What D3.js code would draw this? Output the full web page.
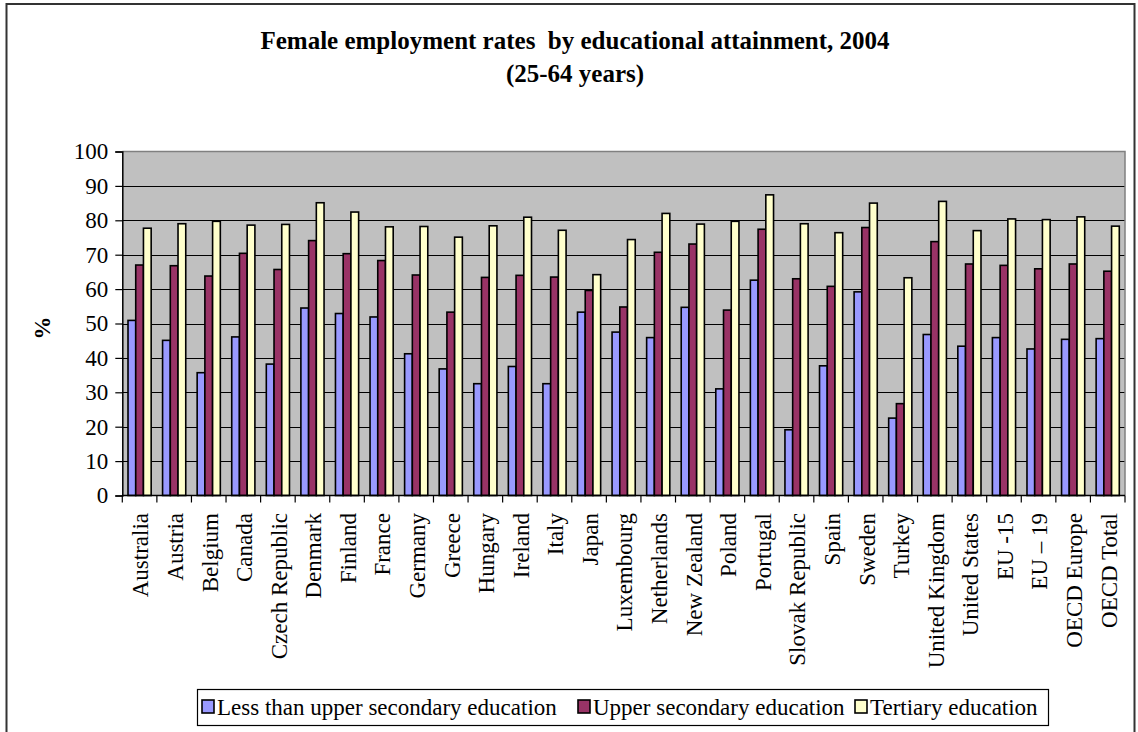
<!DOCTYPE html>
<html><head><meta charset="utf-8">
<script src="https://cdn.jsdelivr.net/npm/d3@7/dist/d3.min.js"></script>
<style>
body{margin:0;background:#fff}
svg{display:block}
text{font-family:"Liberation Serif","Times New Roman",serif;fill:#000}
</style>
</head><body>
<svg id="chart" width="1138" height="732"></svg>
<script>
const categories = ["Australia","Austria","Belgium","Canada","Czech Republic","Denmark","Finland","France","Germany","Greece","Hungary","Ireland","Italy","Japan","Luxembourg","Netherlands","New Zealand","Poland","Portugal","Slovak Republic","Spain","Sweden","Turkey","United Kingdom","United States","EU -15","EU \u2013 19","OECD Europe","OECD Total"];
const seriesNames = ["Less than upper secondary education","Upper secondary education","Tertiary education"];
const lessThanUpperSecondary = [50.9,45.1,35.7,46.1,38.2,54.5,52.9,51.9,41.2,36.8,32.5,37.5,32.5,53.3,47.5,45.9,54.7,31.0,62.6,19.1,37.7,59.2,22.5,46.8,43.4,45.9,42.6,45.4,45.6];
const upperSecondary = [67.0,66.8,63.8,70.4,65.7,74.1,70.3,68.3,64.1,53.3,63.4,64.0,63.5,59.6,54.8,70.7,73.1,53.9,77.4,63.0,60.8,77.9,26.7,73.8,67.3,66.9,65.9,67.3,65.2];
const tertiary = [77.7,79.0,79.7,78.6,78.8,85.1,82.4,78.1,78.2,75.1,78.4,80.9,77.1,64.2,74.4,82.0,78.9,79.7,87.4,79.0,76.4,85.0,63.3,85.5,77.0,80.4,80.2,81.0,78.3];
const yTicks = [0,10,20,30,40,50,60,70,80,90,100];
const seriesColors = ["#9999FF","#993366","#FFFFCC"];
const titleLines = ["Female employment rates  by educational attainment, 2004","(25-64 years)"];
const yAxisLabel = "%";

const seriesValues = [lessThanUpperSecondary, upperSecondary, tertiary];
const svg = d3.select("#chart");

// outer chart border
svg.append("rect").attr("x",6.5).attr("y",4).attr("width",1128).attr("height",800)
  .attr("fill","none").attr("stroke","#333").attr("stroke-width",2);

const plot = {left:122.3, right:1125, top:151.5, bottom:495.5};

const x = d3.scaleBand().domain(categories).range([plot.left, plot.right])
  .paddingInner(0.33).paddingOuter(0.165);
const xs = d3.scaleBand().domain(d3.range(seriesNames.length)).range([0, x.bandwidth()]);
const y = d3.scaleLinear().domain([0,100]).range([plot.bottom, plot.top]);

// plot background
svg.append("rect").attr("x",plot.left).attr("y",plot.top)
  .attr("width",plot.right-plot.left).attr("height",plot.bottom-plot.top)
  .attr("fill","#C0C0C0");

// gridlines
svg.append("g").selectAll("line").data(yTicks.filter(d=>d>0 && d<100)).join("line")
  .attr("x1",plot.left).attr("x2",plot.right)
  .attr("y1",d=>Math.round(y(d))+0.5).attr("y2",d=>Math.round(y(d))+0.5)
  .attr("stroke","#000").attr("stroke-width",1);

// plot border top/right (gray)
svg.append("path")
  .attr("d",`M${plot.left},${plot.top}H${plot.right}V${plot.bottom}`)
  .attr("fill","none").attr("stroke","#808080").attr("stroke-width",1.5);

// bars
const groups = svg.append("g").selectAll("g").data(categories).join("g")
  .attr("transform",d=>`translate(${x(d)},0)`);
groups.selectAll("rect").data((c,i)=>seriesValues.map((s,k)=>({k, v:s[i]}))).join("rect")
  .attr("x",d=>xs(d.k)).attr("width",xs.bandwidth())
  .attr("y",d=>y(d.v)).attr("height",d=>y(0)-y(d.v))
  .attr("fill",d=>seriesColors[d.k]).attr("stroke","#000").attr("stroke-width",1.6);

// y axis
const yAxis = d3.axisLeft(y).tickValues(yTicks).tickSize(7).tickPadding(7).tickFormat(d3.format("d"));
const gy = svg.append("g").attr("transform",`translate(${plot.left},0)`).call(yAxis);
gy.attr("font-family",null);
gy.select(".domain").attr("stroke","#000").attr("stroke-width",1.5);
gy.selectAll(".tick line").attr("stroke","#000").attr("stroke-width",1.2);
gy.selectAll(".tick text").attr("font-size",23).style("font-family","'Liberation Serif', serif").attr("fill","#000");

// x axis baseline and ticks between categories
svg.append("line").attr("x1",plot.left).attr("x2",plot.right)
  .attr("y1",plot.bottom).attr("y2",plot.bottom).attr("stroke","#000").attr("stroke-width",1.5);
const boundaries = categories.map(c=>x(c)-x.paddingOuter()*x.step()).concat([plot.right]);
svg.append("g").selectAll("line").data(boundaries).join("line")
  .attr("x1",d=>d).attr("x2",d=>d).attr("y1",plot.bottom).attr("y2",plot.bottom+7)
  .attr("stroke","#000").attr("stroke-width",1.2);

// x labels
svg.append("g").selectAll("text").data(categories).join("text")
  .attr("transform",d=>`translate(${x(d)+x.bandwidth()/2+1},513) rotate(-90)`)
  .attr("text-anchor","end").attr("dy","0.34em").attr("font-size",23)
  .text(d=>d);

// y axis title
svg.append("text").attr("transform","translate(42,328) rotate(-90)")
  .attr("text-anchor","middle").attr("dy","0.35em").attr("font-size",23).attr("font-weight","bold")
  .text(yAxisLabel);

// title
svg.append("g").selectAll("text").data(titleLines).join("text")
  .attr("x",575).attr("y",(d,i)=>49+i*33).attr("text-anchor","middle")
  .style("white-space","pre").attr("xml:space","preserve")
  .attr("font-size",25).attr("font-weight","bold").text(d=>d);

// legend
const lg = svg.append("g");
lg.append("rect").attr("x",197.5).attr("y",689.5).attr("width",851).attr("height",36)
  .attr("fill","#fff").attr("stroke","#000").attr("stroke-width",1.2);
const legendX = [202, 578, 855];
seriesNames.forEach((name,k)=>{
  lg.append("rect").attr("x",legendX[k]).attr("y",700).attr("width",12).attr("height",13)
    .attr("fill",seriesColors[k]).attr("stroke","#000").attr("stroke-width",1.6);
  lg.append("text").attr("x",legendX[k]+15).attr("y",715).attr("font-size",23).text(name);
});
</script>
</body></html>
